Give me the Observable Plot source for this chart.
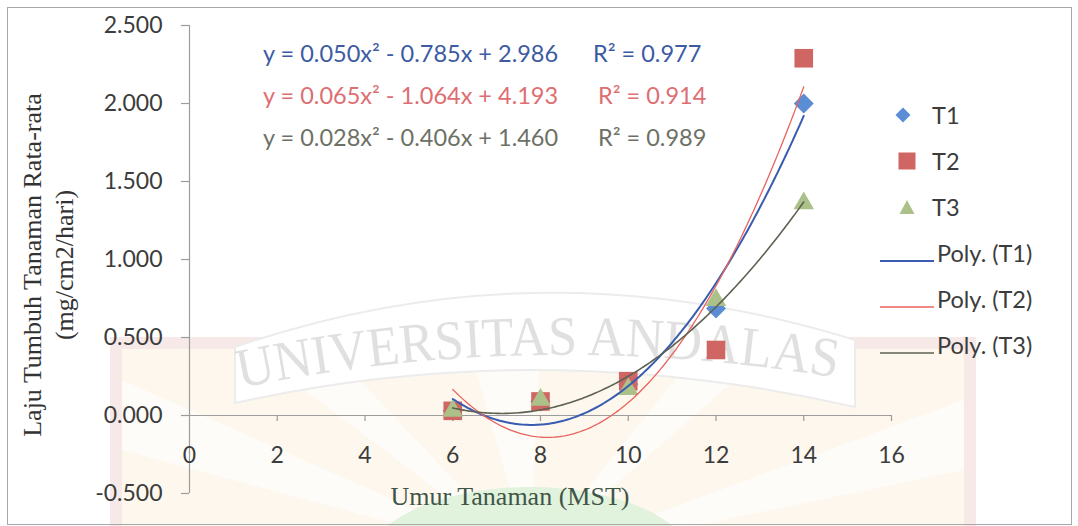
<!DOCTYPE html>
<html>
<head>
<meta charset="utf-8">
<script src="https://cdn.jsdelivr.net/npm/d3@7"></script>
<script src="https://cdn.jsdelivr.net/npm/@observablehq/plot@0.6"></script>
<style>
  html, body { margin: 0; padding: 0; background: #fff; }
  #wrap { position: relative; width: 1078px; height: 526px; overflow: hidden; background: #fff; }
  #bg, #chart, #overlay { position: absolute; left: 0; top: 0; }
  #chart svg { background: transparent !important; }
  .abs { position: absolute; white-space: nowrap; }
  .lato { font-family: Lato, "Open Sans", sans-serif; }
  .serif { font-family: "Liberation Serif", "DejaVu Serif", serif; }
</style>
</head>
<body>
<div id="wrap">
  <svg id="bg" width="1078" height="526">
    <rect x="116" y="343" width="854" height="200" fill="#fdf7ed" stroke="#f6e9e8" stroke-width="12"/>
    <g fill="#ffffff" opacity="0.7">
      <polygon points="530,560 122,380 122,450"/>
      <polygon points="530,560 250,349 330,349"/>
      <polygon points="530,560 470,349 540,349"/>
      <polygon points="530,560 700,349 770,349"/>
      <polygon points="530,560 964,400 964,470"/>
    </g>
    <ellipse cx="530" cy="565" rx="165" ry="78" fill="#e1f2dd"/>
    <path d="M 235 347 Q 540 242 855 340 L 855 407 Q 540 335 235 403 Z" fill="#ffffff" stroke="#ececec" stroke-width="2"/>
    <path id="arc" d="M 240 388 Q 540 326 850 380" fill="none"/>
    <text font-family="Liberation Serif, serif" font-size="56" fill="#e0e0e0">
      <textPath href="#arc" textLength="600" lengthAdjust="spacingAndGlyphs">UNIVERSITAS ANDALAS</textPath>
    </text>
  </svg>
  <div id="chart"></div>
  <div id="overlay"></div>
  <div class="abs" style="left:7px;top:7px;width:1063px;height:516px;border:1px solid #a8a8a8;"></div>
</div>
<script>
// ---- data ----
const ages = [6, 8, 10, 12, 14];
const seriesNames = ["T1", "T2", "T3"];
const valuesT1 = [0.03, 0.09, 0.20, 0.686, 2.00];
const valuesT2 = [0.03, 0.09, 0.22, 0.42, 2.29];
const valuesT3 = [0.03, 0.10, 0.17, 0.74, 1.36];
const xTicks = [0, 2, 4, 6, 8, 10, 12, 14, 16];
const yTicks = [-0.5, 0, 0.5, 1.0, 1.5, 2.0, 2.5];
const equationLabels = ["y = 0.050x² - 0.785x + 2.986", "y = 0.065x² - 1.064x + 4.193", "y = 0.028x² - 0.406x + 1.460"];
const r2Labels = ["R² = 0.977", "R² = 0.914", "R² = 0.989"];
const trendNames = ["Poly. (T1)", "Poly. (T2)", "Poly. (T3)"];
const xTitle = "Umur Tanaman (MST)";
const yTitle1 = "Laju Tumbuh Tanaman Rata-rata";
const yTitle2 = "(mg/cm2/hari)";

// ---- styles ----
const markerColors = ["#5b8dd4", "#cf6663", "#abc189"];
const markerSymbols = ["diamond2", "square", "triangle"];
const markerR = [9, 10.5, 7.6];
const trendColors = ["#3a5cb0", "#e8625e", "#5e6252"];
const trendWidths = [2, 1.3, 1.6];
const textColors = ["#3d5ba3", "#dd6e72", "#6d7165"];
const axisColor = "#9c9c9c";
const labelColor = "#3c3c3c";

const allValues = [valuesT1, valuesT2, valuesT3];
const points = seriesNames.map((name, s) => ages.map((x, i) => ({series: name, x, y: allValues[s][i]})));

// least-squares quadratic trendline (computed from data)
function polyfit2(xv, yv) {
  const n = xv.length;
  let s = [0, 0, 0, 0, 0], t = [0, 0, 0];
  for (let i = 0; i < n; i++) {
    for (let k = 0; k <= 4; k++) s[k] += Math.pow(xv[i], k);
    for (let k = 0; k <= 2; k++) t[k] += yv[i] * Math.pow(xv[i], k);
  }
  const A = [[s[0], s[1], s[2], t[0]], [s[1], s[2], s[3], t[1]], [s[2], s[3], s[4], t[2]]];
  for (let c = 0; c < 3; c++) {
    for (let r = c + 1; r < 3; r++) {
      const f = A[r][c] / A[c][c];
      for (let k = c; k < 4; k++) A[r][k] -= f * A[c][k];
    }
  }
  const sol = [0, 0, 0];
  for (let r = 2; r >= 0; r--) {
    let v = A[r][3];
    for (let k = r + 1; k < 3; k++) v -= A[r][k] * sol[k];
    sol[r] = v / A[r][r];
  }
  return sol; // c0, c1, c2
}
const xMin = d3.min(ages), xMax = d3.max(ages);
const trends = allValues.map((vals) => {
  const [c0, c1, c2] = polyfit2(ages, vals);
  return d3.range(xMin, xMax + 1e-9, 0.05).map(x => ({x, y: c0 + c1 * x + c2 * x * x}));
});

const marks = [
  Plot.ruleY([0], {x1: xTicks[0], x2: xTicks[xTicks.length - 1], stroke: axisColor, strokeWidth: 1.2}),
  Plot.ruleX([0], {y1: yTicks[0], y2: yTicks[yTicks.length - 1], stroke: axisColor, strokeWidth: 1.2}),
  Plot.ruleX(xTicks.slice(1), {x: d => d, y1: 0, y2: 0, insetBottom: -6, stroke: axisColor, strokeWidth: 1.2}),
  Plot.ruleY(yTicks, {y: d => d, x1: 0, x2: 0, insetLeft: -8, stroke: axisColor, strokeWidth: 1.2}),
  Plot.text(xTicks, {x: d => d, y: 0, text: d => String(d), dy: 40, fontSize: 23, fill: labelColor, fontFamily: "Lato"}),
  Plot.text(yTicks, {x: 0, y: d => d, text: d => d.toFixed(3), dx: -27, textAnchor: "end", fontSize: 23, fill: labelColor, fontFamily: "Lato"})
];
points.forEach((pts, s) => {
  marks.push(Plot.dot(pts, {x: "x", y: "y", symbol: () => markerSymbols[s], r: markerR[s], fill: markerColors[s], stroke: "none"}));
});
trends.forEach((tr, s) => {
  marks.push(Plot.line(tr, {x: "x", y: "y", stroke: trendColors[s], strokeWidth: trendWidths[s], curve: "linear"}));
});

const chart = Plot.plot({
  width: 1078,
  height: 526,
  marginLeft: 189,
  marginRight: 187,
  marginTop: 25,
  marginBottom: 33,
  x: {domain: [0, 16], axis: null},
  y: {domain: [-0.5, 2.5], axis: null},
  symbol: {type: "identity"},
  style: {background: "transparent", overflow: "visible"},
  marks
});
document.getElementById("chart").appendChild(chart);

// ---- overlay texts: equations, legend, axis titles ----
const ov = document.getElementById("overlay");
function addDiv(html, css, cls) {
  const d = document.createElement("div");
  d.className = "abs " + (cls || "");
  d.innerHTML = html;
  d.style.cssText += css;
  ov.appendChild(d);
  return d;
}
const eqTops = [53, 95, 137];
const r2Lefts = [593, 598, 598];
equationLabels.forEach((t, i) => {
  addDiv(t, `left:263px;top:${eqTops[i]}px;transform:translateY(-50%);font-size:23.5px;color:${textColors[i]};`, "lato");
  addDiv(r2Labels[i], `left:${r2Lefts[i]}px;top:${eqTops[i]}px;transform:translateY(-50%);font-size:23.5px;color:${textColors[i]};`, "lato");
});

// legend
const legTops = [115, 161, 207, 253, 299, 345];
const symSvg = [
  `<svg width="20" height="20"><polygon points="10,2.5 17.5,10 10,17.5 2.5,10" fill="${markerColors[0]}"/></svg>`,
  `<svg width="20" height="20"><rect x="1.5" y="1.5" width="17" height="17" fill="${markerColors[1]}"/></svg>`,
  `<svg width="20" height="20"><polygon points="10,3 17.5,17 2.5,17" fill="${markerColors[2]}"/></svg>`
];
const symCx = [903, 907, 907];
seriesNames.forEach((n, i) => {
  addDiv(symSvg[i], `left:${symCx[i] - 10}px;top:${legTops[i] - 10}px;width:20px;height:20px;`);
  addDiv(n, `left:932px;top:${legTops[i]}px;transform:translateY(-50%);font-size:23.5px;color:${labelColor};`, "lato");
});
trendNames.forEach((n, i) => {
  addDiv(`<svg width="54" height="6"><line x1="0" y1="3" x2="54" y2="3" stroke="${trendColors[i]}" stroke-width="${trendWidths[i]}"/></svg>`,
    `left:880px;top:${legTops[i + 3] - 3}px;width:54px;height:6px;`);
  addDiv(n, `left:937px;top:${legTops[i + 3]}px;transform:translateY(-50%);font-size:23.5px;color:${labelColor};`, "lato");
});

// axis titles
addDiv(xTitle, `left:510px;top:497px;transform:translate(-50%,-50%);font-size:26px;color:#3f5547;`, "serif");
addDiv(yTitle1, `left:33px;top:265px;transform:translate(-50%,-50%) rotate(-90deg);font-size:26px;color:#333;`, "serif");
addDiv(yTitle2, `left:65px;top:265px;transform:translate(-50%,-50%) rotate(-90deg);font-size:26px;color:#333;`, "serif");
</script>
</body>
</html>
